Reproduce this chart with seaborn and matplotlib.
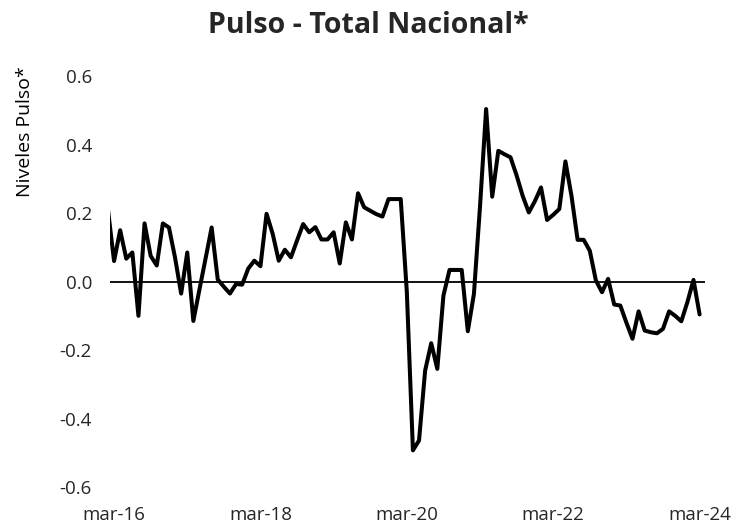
"""
Pulso - Total Nacional line chart
"""
import pandas as pd
import matplotlib
matplotlib.use("Agg")
import matplotlib.pyplot as plt
import seaborn as sns

# monthly readings, feb-16 .. mar-24
months = pd.period_range("2016-02", "2024-03", freq="M")
pulso = [0.21, 0.06, 0.15, 0.067, 0.085, -0.10, 0.17, 0.075, 0.047, 0.17,
         0.158, 0.07, -0.035, 0.085, -0.115, -0.023, 0.067, 0.158, 0.006, -0.015,
         -0.035, -0.007, -0.009, 0.038, 0.061, 0.045, 0.198, 0.14, 0.061, 0.093,
         0.071, 0.12, 0.168, 0.144, 0.159, 0.123, 0.123, 0.144, 0.053, 0.173,
         0.123, 0.258, 0.217, 0.207, 0.197, 0.19, 0.241, 0.241, 0.241, -0.03,
         -0.493, -0.464, -0.26, -0.18, -0.255, -0.041, 0.034, 0.034, 0.034, -0.145,
         -0.036, 0.22, 0.504, 0.248, 0.382, 0.372, 0.363, 0.31, 0.25, 0.202,
         0.235, 0.275, 0.18, 0.195, 0.212, 0.351, 0.25, 0.122, 0.122, 0.09,
         0.003, -0.031, 0.008, -0.067, -0.07, -0.12, -0.167, -0.087, -0.143, -0.148,
         -0.151, -0.138, -0.087, -0.10, -0.116, -0.06, 0.005, -0.096]
tick_labels = ["mar-16", "mar-18", "mar-20", "mar-22", "mar-24"]
y_ticks = [-0.6, -0.4, -0.2, 0.0, 0.2, 0.4, 0.6]

start = pd.Period("2016-03", freq="M")
df = pd.DataFrame({
    "mes": [(m - start).n for m in months],
    "pulso": pulso,
})

sns.set_theme(style="white")
plt.rcParams["font.family"] = ["Open Sans", "DejaVu Sans"]

fig = plt.figure(figsize=(7.36, 5.29), dpi=100)
ax = fig.add_axes([0.1495, 0.0794, 0.8085, 0.7766])

ax.axhline(0, color="black", linewidth=1.3, zorder=1)
sns.lineplot(data=df, x="mes", y="pulso", color="black", linewidth=2.9, ax=ax, zorder=2)

ax.set_xlim(-0.66, 96.9)
ax.set_ylim(-0.6, 0.6)
ax.set_xticks([0, 24, 48, 72, 96])
ax.set_xticklabels(tick_labels)
ax.set_yticks(y_ticks)
ax.set_yticklabels([f"{v:.1f}" for v in y_ticks])
ax.tick_params(axis="x", length=0, pad=14, labelsize=13.5, colors="#262626")
ax.tick_params(axis="y", length=0, pad=13, labelsize=13.5, colors="#262626")
for s in ax.spines.values():
    s.set_visible(False)

ax.set_xlabel("")
ax.set_ylabel("Niveles Pulso*", fontsize=14, color="black")
ax.yaxis.set_label_coords(-0.128, 0.866)

fig.suptitle("Pulso - Total Nacional*", fontsize=20.5, fontweight="bold", x=0.5, y=0.98)

fig.savefig("out.png", dpi=100)
